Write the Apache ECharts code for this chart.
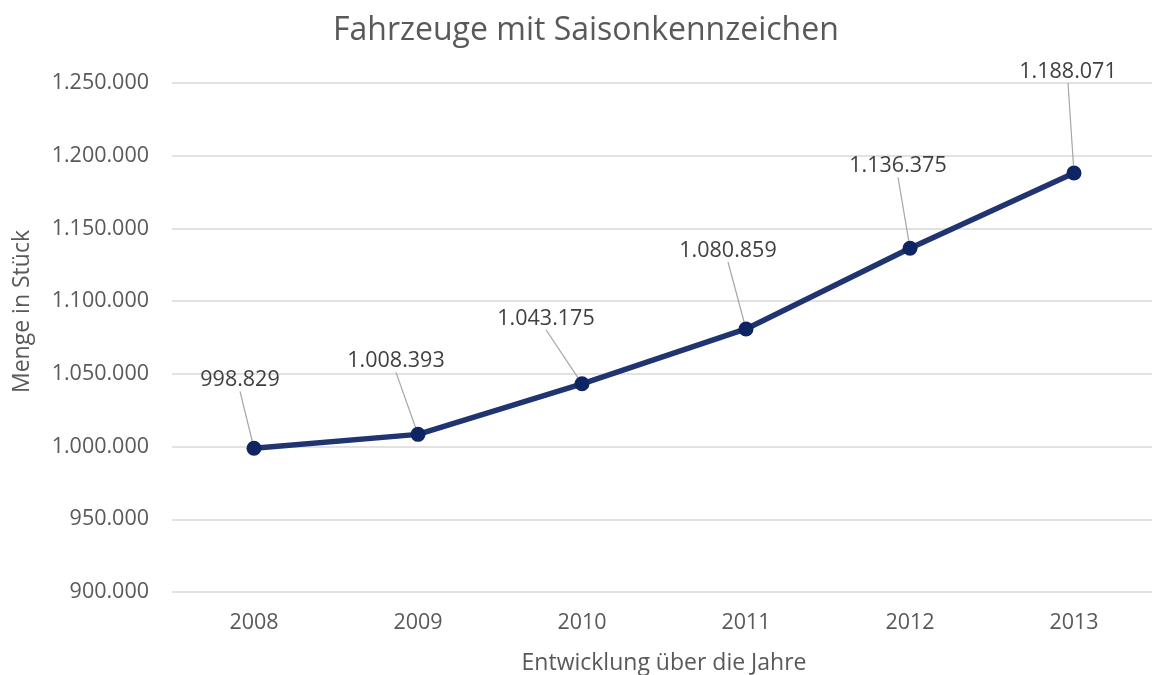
<!DOCTYPE html>
<html>
<head>
<meta charset="utf-8">
<script src="https://cdn.jsdelivr.net/npm/echarts@6/dist/echarts.min.js"></script>
<style>
  html, body { margin: 0; padding: 0; background: #fff; }
  #main { width: 1152px; height: 675px; }
</style>
</head>
<body>
<div id="main"></div>
<script>
// Daten
var years = ['2008', '2009', '2010', '2011', '2012', '2013'];
var vehicles = [998829, 1008393, 1043175, 1080859, 1136375, 1188071];
var yMin = 900000, yMax = 1250000, yStep = 50000;

// Verschiebung der Beschriftungen (px), wie im Original
var labelShift = [[-14, -68], [-22, -73], [-36, -65], [-18, -78], [-12, -82], [-6, -101]];

var fontFam = '"Open Sans", "Noto Sans", sans-serif';

// 1188071 -> 1.188.071
function fmt(v) {
    return String(v).replace(/\B(?=(\d{3})+(?!\d))/g, '.');
}

var myChart = echarts.init(document.getElementById('main'));
var option = {
    backgroundColor: '#fff',
    animation: false,
    title: {
        text: 'Fahrzeuge mit Saisonkennzeichen',
        left: 328,
        top: 10,
        textStyle: { color: '#595959', fontSize: 32, fontWeight: 'normal', fontFamily: fontFam }
    },
    grid: { left: 172, right: -4, top: 83, bottom: 83, outerBoundsMode: 'none' },
    xAxis: {
        type: 'category',
        data: years,
        name: 'Entwicklung über die Jahre',
        nameLocation: 'middle',
        nameGap: 60,
        nameTextStyle: { color: '#595959', fontSize: 23, fontFamily: fontFam },
        axisLine: { show: false },
        axisTick: { show: false },
        axisLabel: { color: '#595959', fontSize: 21.5, margin: 20, fontFamily: fontFam }
    },
    yAxis: {
        type: 'value',
        min: yMin,
        max: yMax,
        interval: yStep,
        name: 'Menge in Stück',
        nameLocation: 'middle',
        nameGap: 138,
        nameTextStyle: { color: '#595959', fontSize: 23, fontFamily: fontFam, padding: [0, 0, 0, 52] },
        axisLabel: {
            color: '#595959', fontSize: 21.5, margin: 23, fontFamily: fontFam,
            formatter: function(v) { return fmt(v); }
        },
        splitLine: { lineStyle: { color: '#d9d9d9', width: 1.5 } }
    },
    series: [{
        type: 'line',
        data: vehicles,
        symbol: 'circle',
        symbolSize: 15,
        lineStyle: { color: '#1f3470', width: 5.5 },
        itemStyle: { color: '#0f2563' },
        label: {
            show: true,
            position: 'inside',
            color: '#404040',
            fontSize: 21.5,
            fontFamily: fontFam,
            formatter: function(p) { return fmt(p.value); }
        },
        labelLine: {
            show: true,
            lineStyle: { color: '#a6a6a6', width: 1.2 }
        },
        labelLayout: function(params) {
            var s = labelShift[params.dataIndex];
            return { dx: s[0], dy: s[1] };
        }
    }]
};
myChart.setOption(option);
</script>
</body>
</html>
